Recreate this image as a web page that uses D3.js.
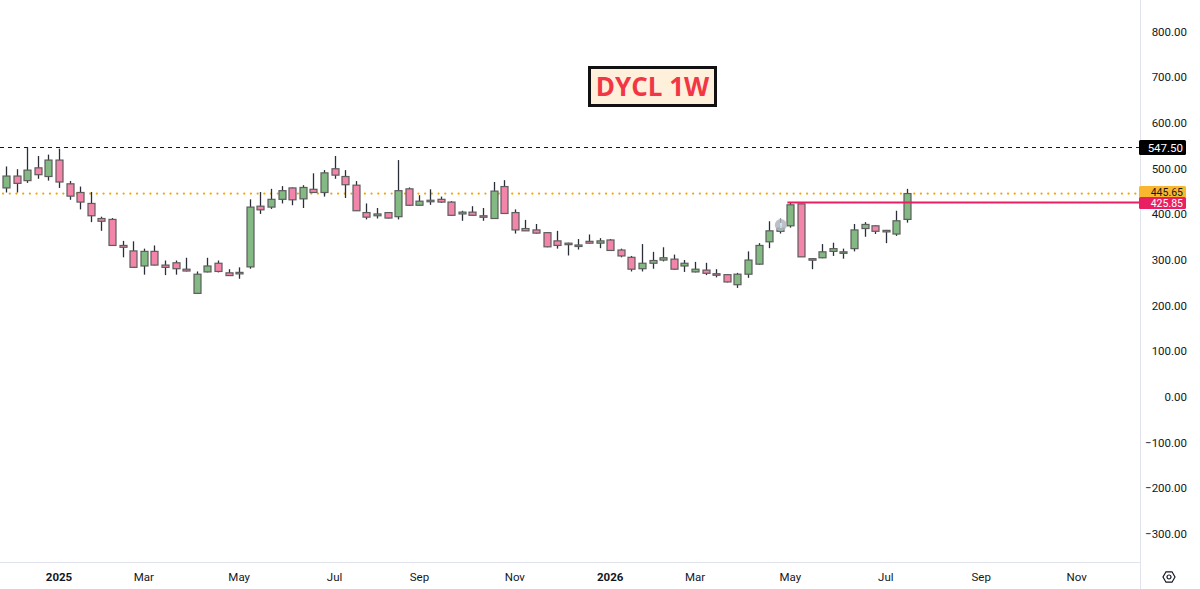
<!DOCTYPE html>
<html>
<head>
<meta charset="utf-8">
<script src="https://cdn.jsdelivr.net/npm/d3@7/dist/d3.min.js"></script>
<style>
  html, body { margin: 0; padding: 0; background: #fff; }
  svg { display: block; font-family: "Roboto", "Liberation Sans", sans-serif; }
</style>
</head>
<body>
<div id="chart"></div>
<script>
// weekly bars, first one is the week of 2 Dec 2024
const firstWeek = new Date(2024, 11, 2);
const opens  = [458,484,474,502,483,519,467,448,424,391,389,332,320,287,319,289,294,280,227,274,293,272,272,285,418,416,433,458,434,455,448,500,483,464,404,397,404,395,456,420,430,433,427,401,405,397,391,461,404,369,366,360,342,337,332,341,337,344,322,306,281,293,300,302,287,274,278,270,268,246,269,291,340,363,375,423,303,305,319,317,325,369,375,364,357,389];
const highs  = [505,499,547,528,531,544,473,461,449,395,392,342,341,325,332,299,299,305,275,305,299,280,284,433,449,456,462,459,464,490,497,528,497,473,424,414,405,519,459,442,455,439,429,408,418,414,471,475,411,388,379,361,364,338,346,356,348,346,325,309,335,318,328,312,300,296,294,280,269,272,319,337,385,391,426,424,304,335,338,325,379,383,376,366,408,456];
const lows   = [448,448,469,478,474,458,432,411,383,364,331,306,283,268,288,267,268,275,226,273,273,265,259,281,401,412,424,420,414,447,439,478,436,408,389,391,391,389,419,419,421,425,397,386,397,386,390,402,358,364,358,328,325,310,323,336,326,320,306,275,275,281,297,279,274,273,267,262,251,239,261,290,326,358,371,307,280,304,309,303,319,351,357,337,353,382];
const closes = [484,468,497,487,519,471,440,427,397,385,332,328,284,319,289,284,281,276,269,287,275,266,273,416,410,433,452,432,459,448,491,486,465,408,394,401,392,452,420,429,431,427,398,405,398,396,451,402,366,364,359,329,332,336,333,337,342,321,309,280,293,299,305,280,293,280,271,269,252,269,300,332,364,370,421,307,302,318,325,318,366,378,363,365,386,445.65];

const priceTicks = [800, 700, 600, 500, 400, 300, 200, 100, 0, -100, -200, -300];
const timeTicks = [
  { date: new Date(2025, 0, 6),  label: "2025", bold: true },
  { date: new Date(2025, 2, 3),  label: "Mar" },
  { date: new Date(2025, 4, 5),  label: "May" },
  { date: new Date(2025, 6, 7),  label: "Jul" },
  { date: new Date(2025, 8, 1),  label: "Sep" },
  { date: new Date(2025, 10, 3), label: "Nov" },
  { date: new Date(2026, 0, 5),  label: "2026", bold: true },
  { date: new Date(2026, 2, 2),  label: "Mar" },
  { date: new Date(2026, 4, 4),  label: "May" },
  { date: new Date(2026, 6, 6),  label: "Jul" },
  { date: new Date(2026, 8, 7),  label: "Sep" },
  { date: new Date(2026, 10, 9), label: "Nov" }
];

const highLevel = 547.50;
const lastLevel = 445.65;
const resistLevel = 425.85;

const bars = opens.map((o, i) => ({
  date: d3.timeWeek.offset(firstWeek, i),
  o: o, h: highs[i], l: lows[i], c: closes[i]
}));

const W = 1200, H = 589;
const plotRight = 1140, plotBottom = 562;

const svg = d3.select('#chart').append('svg')
  .attr('width', W).attr('height', H);

const x = d3.scaleTime()
  .domain([firstWeek, new Date(2025, 0, 6)])
  .range([6, 59]);
const y = d3.scaleLinear()
  .domain([0, 800])
  .range([397, 31.8]);

// axis frames
svg.append('line').attr('x1', plotRight + 0.5).attr('x2', plotRight + 0.5)
  .attr('y1', 0).attr('y2', H).attr('stroke', '#e0e3eb');
svg.append('line').attr('x1', 0).attr('x2', plotRight)
  .attr('y1', plotBottom + 0.5).attr('y2', plotBottom + 0.5).attr('stroke', '#e0e3eb');

// horizontal levels
svg.append('line')
  .attr('x1', 0).attr('x2', plotRight)
  .attr('y1', Math.round(y(highLevel)) + 0.5).attr('y2', Math.round(y(highLevel)) + 0.5)
  .attr('stroke', '#131722').attr('stroke-width', 1).attr('stroke-dasharray', '4,4');
svg.append('line')
  .attr('x1', 3).attr('x2', plotRight)
  .attr('y1', y(lastLevel)).attr('y2', y(lastLevel))
  .attr('stroke', '#f7a600').attr('stroke-width', 2.2)
  .attr('stroke-linecap', 'round').attr('stroke-dasharray', '0.1,6.6');

// candles
const bw = 7;
const g = svg.append('g');
const candle = g.selectAll('g.c').data(bars).enter().append('g');
candle.append('line')
  .attr('x1', d => Math.round(x(d.date)) + 0.5)
  .attr('x2', d => Math.round(x(d.date)) + 0.5)
  .attr('y1', d => y(d.h)).attr('y2', d => y(d.l))
  .attr('stroke', '#2a2e39').attr('stroke-width', 1.3);
candle.append('rect')
  .attr('x', d => Math.round(x(d.date)) - bw / 2 + 0.5)
  .attr('width', bw)
  .attr('y', d => y(Math.max(d.o, d.c)))
  .attr('height', d => Math.max(1.5, Math.abs(y(d.o) - y(d.c))))
  .attr('fill', d => d.c >= d.o ? '#83b983' : '#f385ab')
  .attr('stroke', '#5d5d5d').attr('stroke-width', 1.2);

// resistance line from the high of the May 2026 bars
const resistStart = bars[74].date;
svg.append('line')
  .attr('x1', x(resistStart) - 3).attr('x2', plotRight)
  .attr('y1', y(resistLevel)).attr('y2', y(resistLevel))
  .attr('stroke', '#e91e63').attr('stroke-width', 2);

// event marker near the April 2026 bar
const ev = svg.append('g').attr('transform', `translate(${x(bars[73].date) + 1},${y(bars[73].c) - 3})`);
ev.append('circle').attr('r', 6).attr('fill', '#b2b5be').attr('opacity', 0.85);
ev.append('text').attr('text-anchor', 'middle').attr('dy', '0.35em')
  .attr('font-size', 8).attr('font-weight', 'bold').attr('fill', '#fff').text('!');

// title box
const title = svg.append('g').attr('transform', 'translate(588,66)');
title.append('rect').attr('x', 1.5).attr('y', 1.5).attr('width', 126).attr('height', 38)
  .attr('fill', '#fff0dc').attr('stroke', '#111').attr('stroke-width', 3);
title.append('text').attr('x', 64.5).attr('y', 21).attr('dy', '0.36em')
  .attr('text-anchor', 'middle').attr('font-size', 26).attr('font-weight', 'bold')
  .attr('font-family', '"Open Sans", "DejaVu Sans", sans-serif')
  .attr('fill', '#f23645').text('DYCL 1W');

// price axis (400.00 sits under the tags, as in the original)
svg.append('g').selectAll('text').data(priceTicks).enter().append('text')
  .attr('x', 1187).attr('y', d => y(d)).attr('dy', '0.35em')
  .attr('text-anchor', 'end').attr('font-size', 11.5).attr('fill', '#131722')
  .text(d => d3.format('.2f')(d).replace('-', '\u2212'));

// price tags; the last two are stacked so they do not overlap
function priceTag(v, top, h, fs, bg, fg) {
  const t = svg.append('g').attr('transform', `translate(1139,${top})`);
  t.append('rect').attr('width', 47).attr('height', h).attr('rx', 1.5).attr('fill', bg);
  t.append('text').attr('x', 44).attr('y', h / 2).attr('dy', '0.35em')
    .attr('text-anchor', 'end').attr('font-size', fs).attr('fill', fg)
    .text(d3.format('.2f')(v));
}
priceTag(highLevel, Math.round(y(highLevel)) - 7, 15, 11.5, '#000000', '#ffffff');
priceTag(lastLevel, Math.round(y(lastLevel)) - 8, 12, 10.5, '#f9b72f', '#131722');
priceTag(resistLevel, Math.round(y(resistLevel)) - 6, 12, 10.5, '#ea1f62', '#ffffff');

// time axis
svg.append('g').selectAll('text').data(timeTicks).enter().append('text')
  .attr('x', d => x(d.date)).attr('y', 577).attr('dy', '0.35em')
  .attr('text-anchor', 'middle').attr('font-size', 11.5)
  .attr('font-weight', d => d.bold ? 'bold' : 'normal')
  .attr('fill', '#131722').text(d => d.label);

// settings icon
const gear = svg.append('g').attr('transform', 'translate(1169,577)');
gear.append('path')
  .attr('d', d3.line()(d3.range(6).map(i => {
    const a = Math.PI / 3 * i;
    return [6 * Math.cos(a), 6 * Math.sin(a)];
  })) + 'Z')
  .attr('fill', 'none').attr('stroke', '#131722').attr('stroke-width', 1.2);
gear.append('circle').attr('r', 2).attr('fill', 'none').attr('stroke', '#131722').attr('stroke-width', 1.2);
</script>
</body>
</html>
